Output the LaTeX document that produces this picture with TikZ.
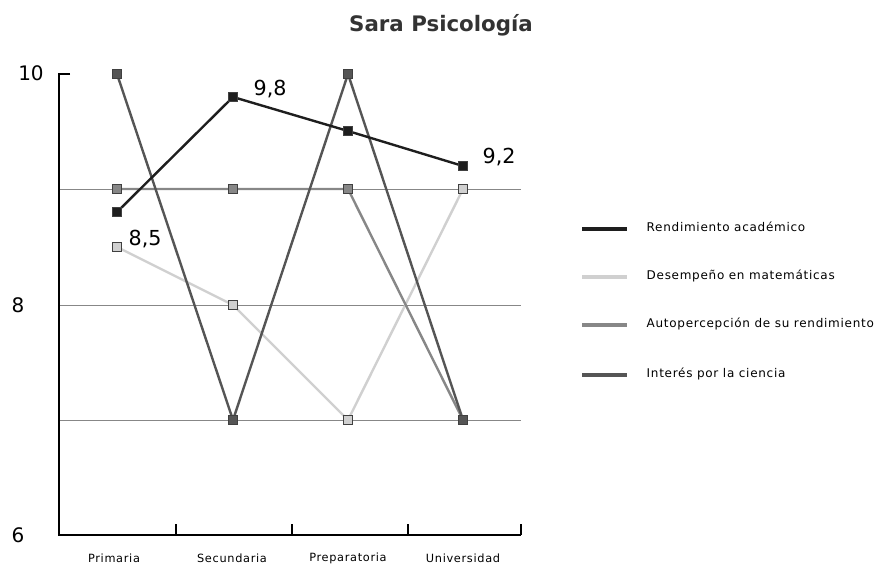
\documentclass[tikz,border=0pt]{standalone}
\usepackage{fontspec}
\setmainfont{DejaVu Sans}
\newfontfamily\ancha[LetterSpace=6]{DejaVu Sans}
\definecolor{rend}{HTML}{1E1E1E}
\definecolor{desem}{HTML}{D0D0D0}
\definecolor{autop}{HTML}{878787}
\definecolor{inter}{HTML}{555555}
\begin{document}
\begin{tikzpicture}[x=0.75pt,y=-0.75pt,
  serie/.style={line width=1.8pt},
  punto/.style={rectangle,draw=black!75,line width=0.5pt,minimum size=6.8pt,inner sep=0pt},
  valor/.style={anchor=west,font=\fontsize{15.5}{16}\selectfont},
  eje/.style={anchor=center,font=\fontsize{15}{15}\selectfont},
  cat/.style={font=\ancha\fontsize{8.5}{9}\selectfont},
  leyenda/.style={anchor=west,font=\ancha\fontsize{9}{10}\selectfont},
  muestra/.style={line width=3pt}]
\useasboundingbox (0,0) rectangle (882,569);
% titulo
\node[font=\bfseries\fontsize{16}{17}\selectfont,text=black!80] (titulo) at (441,25) {Sara Psicología};
% ejes
\draw[autop,line width=0.7pt] (59,189) -- (521,189);
\draw[autop,line width=0.7pt] (59,305) -- (521,305);
\draw[autop,line width=0.7pt] (59,420) -- (521,420);
\draw[line width=0.9pt] (70,74) -| (59,535) -- (521,535);
\foreach \x in {176,292,408,521}
  \draw[line width=0.9pt] (\x,535) -- (\x,524);
\node[eje] (e10) at (31,73) {10};
\node[eje] (e8) at (18,305) {8};
\node[eje] (e6) at (18,535) {6};
\node[cat] (c1) at (114,558) {Primaria};
\node[cat] (c2) at (232,558) {Secundaria};
\node[cat] (c3) at (348,558) {Preparatoria};
\node[cat] (c4) at (463,558) {Universidad};
% datos
\coordinate (d1) at (117,247); \coordinate (d2) at (233,305);
\coordinate (d3) at (348,420); \coordinate (d4) at (463,189);
\coordinate (a1) at (117,189); \coordinate (a2) at (233,189);
\coordinate (a3) at (348,189); \coordinate (a4) at (463,420);
\coordinate (i1) at (117,74); \coordinate (i2) at (233,420);
\coordinate (i3) at (348,74); \coordinate (i4) at (463,420);
\coordinate (r1) at (117,212); \coordinate (r2) at (233,97);
\coordinate (r3) at (348,131); \coordinate (r4) at (463,166);
\draw[serie,desem] (d1) -- (d2) -- (d3) -- (d4);
\draw[serie,autop] (a1) -- (a2) -- (a3) -- (a4);
\draw[serie,inter] (i1) -- (i2) -- (i3) -- (i4);
\draw[serie,rend] (r1) -- (r2) -- (r3) -- (r4);
\foreach \n in {1,...,4} {
  \node[punto,fill=desem] (pd\n) at (d\n) {};
  \node[punto,fill=autop] (pa\n) at (a\n) {};
  \node[punto,fill=inter] (pi\n) at (i\n) {};
  \node[punto,fill=rend] (pr\n) at (r\n) {};
}
\node[valor] (v85) at (124,239) {8,5};
\node[valor] (v98) at (249,89) {9,8};
\node[valor] (v92) at (478,157) {9,2};
% leyenda
\coordinate (l1) at (582,229); \coordinate (l2) at (582,277);
\coordinate (l3) at (582,325); \coordinate (l4) at (582,375);
\draw[muestra,rend] (l1) -- ++(45,0);
\draw[muestra,desem] (l2) -- ++(45,0);
\draw[muestra,autop] (l3) -- ++(45,0);
\draw[muestra,inter] (l4) -- ++(45,0);
\node[leyenda] (t1) at (642,227) {Rendimiento académico};
\node[leyenda] (t2) at (642,276) {Desempeño en matemáticas};
\node[leyenda] (t3) at (642,324) {Autopercepción de su rendimiento};
\node[leyenda] (t4) at (642,374) {Interés por la ciencia};
\end{tikzpicture}
\end{document}
